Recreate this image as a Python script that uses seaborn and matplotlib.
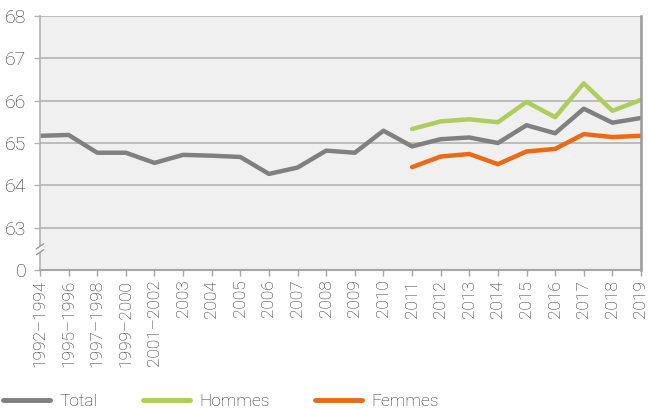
import matplotlib
matplotlib.use("Agg")
import matplotlib.pyplot as plt
import seaborn as sns
import pandas as pd
import numpy as np
from matplotlib.lines import Line2D

periods = ["1992–1994", "1995–1996", "1997–1998", "1999–2000", "2001–2002",
           "2003", "2004", "2005", "2006", "2007", "2008", "2009", "2010",
           "2011", "2012", "2013", "2014", "2015", "2016", "2017", "2018", "2019"]
total = [65.17, 65.19, 64.77, 64.77, 64.53, 64.72, 64.70, 64.67, 64.27, 64.42,
         64.82, 64.77, 65.29, 64.92, 65.09, 65.13, 65.00, 65.42, 65.23, 65.81,
         65.48, 65.59]
hommes_periods = ["2011", "2012", "2013", "2014", "2015", "2016", "2017", "2018", "2019"]
hommes = [65.33, 65.51, 65.56, 65.49, 65.97, 65.61, 66.41, 65.76, 66.02]
femmes = [64.43, 64.68, 64.74, 64.50, 64.80, 64.86, 65.21, 65.14, 65.17]
series_names = ["Total", "Hommes", "Femmes"]
colors = ["#808080", "#AECD5C", "#EC6A13"]
ytick_vals = [62, 63, 64, 65, 66, 67, 68]
ytick_labels = ["0", "63", "64", "65", "66", "67", "68"]

sns.set_theme(style="white")
plt.rcParams["font.family"] = ["Roboto", "DejaVu Sans"]

pos = {p: i for i, p in enumerate(periods)}
rows = []
for p, v in zip(periods, total):
    rows.append((pos[p], v, "Total"))
for p, v in zip(hommes_periods, hommes):
    rows.append((pos[p], v, "Hommes"))
for p, v in zip(hommes_periods, femmes):
    rows.append((pos[p], v, "Femmes"))
df = pd.DataFrame(rows, columns=["x", "value", "series"])

fig = plt.figure(figsize=(6.49, 4.09), dpi=100)
ax = fig.add_axes([40/649, 1-270/409, (641-40)/649, (270-16)/409])
ax.set_facecolor("#EFF0EF")

sns.lineplot(data=df, x="x", y="value", hue="series", hue_order=series_names,
             palette=dict(zip(series_names, colors)), linewidth=3.2, ax=ax,
             legend=False, sort=True)

txt_color = "#2A2A2A"
ax.set_xlim(0, len(periods) - 1)
ax.set_ylim(62, 68)
ax.set_xticks(range(len(periods)))
ax.set_xticklabels(periods, rotation=90, fontsize=12.5, color=txt_color, fontweight="light")
ax.set_yticks(ytick_vals)
ax.set_yticklabels(ytick_labels, fontsize=14, color=txt_color, fontweight="light")
ax.set_xlabel("")
ax.set_ylabel("")
for y in ytick_vals[1:]:
    ax.axhline(y, color="#B3B3B3", linewidth=1.2, zorder=0.5)

ax.spines["top"].set_visible(False)
ax.spines["left"].set_color("#B3B3B3")
ax.spines["bottom"].set_color("#A6A6A6")
ax.spines["right"].set_color("#999999")
ax.spines["left"].set_linewidth(1.2)
ax.spines["bottom"].set_linewidth(1.5)
ax.spines["right"].set_linewidth(1.8)
ax.tick_params(axis="x", length=4, color="#A6A6A6", width=1, pad=3, bottom=True)
ax.tick_params(axis="y", length=4, color="#B3B3B3", width=1, pad=6, left=True)

# axis break marks
trans = ax.get_yaxis_transform()
ax.add_patch(plt.Rectangle((-0.006, 62.42), 0.012, 0.14, transform=trans,
                           facecolor="white", edgecolor="none", clip_on=False, zorder=5))
for yb in [62.42, 62.56]:
    ax.plot([-0.006, 0.006], [yb - 0.06, yb + 0.06], transform=trans, color="#999999",
            linewidth=1, clip_on=False, zorder=6)

handles = [Line2D([0], [0], color=c, linewidth=3.5) for c in colors]
fig.legend(handles, series_names, loc="center left", bbox_to_anchor=(0.0, 1 - 401/409),
           ncol=3, frameon=False, handlelength=2.7, handletextpad=0.55,
           columnspacing=2.6, borderpad=0.2, borderaxespad=0.0,
           prop={"family": ["Roboto", "DejaVu Sans"], "weight": "light", "size": 12.5},
           labelcolor=txt_color)

fig.savefig("out.png", dpi=100)
